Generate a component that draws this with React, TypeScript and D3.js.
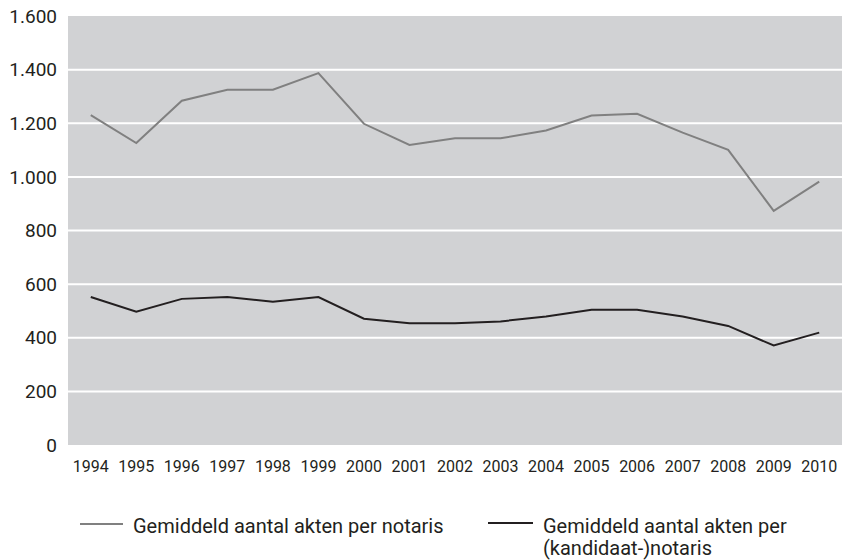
import React, { useEffect, useRef } from "react";
import * as d3 from "d3";

const years = ["1994","1995","1996","1997","1998","1999","2000","2001","2002","2003","2004","2005","2006","2007","2008","2009","2010"];
const notaris = [1230,1126,1284,1325,1325,1387,1198,1119,1144,1144,1173,1229,1235,1165,1101,873,982];
const kandidaat = [552,497,545,552,534,552,471,454,454,461,479,504,504,479,444,371,419];
const yTicks = [0,200,400,600,800,1000,1200,1400,1600];
const legendLabels = ["Gemiddeld aantal akten per notaris", "Gemiddeld aantal akten per|(kandidaat-)notaris"];

const W = 842, H = 560;
const M = { left: 68, right: 0, top: 16, bottom: 115 };
const FONT = "Roboto, 'Liberation Sans', sans-serif";
const TXT = "#231f20";

export default function App() {
  const ref = useRef<SVGSVGElement>(null);
  useEffect(() => {
    const svg = d3.select(ref.current);
    svg.selectAll("*").remove();
    const x = d3.scaleBand().domain(years).range([M.left, W - M.right]);
    const y = d3.scaleLinear().domain([0, 1600]).range([H - M.bottom, M.top]);

    svg.append("rect").attr("x", M.left).attr("y", M.top)
      .attr("width", W - M.right - M.left).attr("height", H - M.bottom - M.top)
      .attr("fill", "#d1d2d4");

    svg.append("g").selectAll("line").data(yTicks.filter(t => t > 0 && t < 1600)).join("line")
      .attr("x1", M.left).attr("x2", W - M.right)
      .attr("y1", d => y(d)).attr("y2", d => y(d))
      .attr("stroke", "#fff").attr("stroke-width", 2);

    const fmt = (v: number) => d3.format(",")(v).replace(/,/g, ".");
    svg.append("g").selectAll("text").data(yTicks).join("text")
      .attr("x", 57).attr("y", d => y(d)).attr("dy", "0.35em")
      .attr("text-anchor", "end").attr("font-family", FONT).attr("font-size", 19)
      .attr("fill", TXT).text(d => fmt(d));

    svg.append("g").selectAll("text").data(years).join("text")
      .attr("x", d => (x(d) as number) + x.bandwidth() / 2).attr("y", 472)
      .attr("text-anchor", "middle").attr("font-family", FONT).attr("font-size", 16)
      .attr("fill", TXT).text(d => d);

    const line = d3.line<number>().x((_, i) => (x(years[i]) as number) + x.bandwidth() / 2).y(d => y(d));
    svg.append("path").attr("d", line(notaris)).attr("fill", "none").attr("stroke", "#808080").attr("stroke-width", 2);
    svg.append("path").attr("d", line(kandidaat)).attr("fill", "none").attr("stroke", "#231f20").attr("stroke-width", 2);

    const legend = [
      { x1: 80, x2: 123, y: 524, tx: 133, color: "#808080", label: legendLabels[0] },
      { x1: 488, x2: 533, y: 523, tx: 543, color: "#231f20", label: legendLabels[1] },
    ];
    legend.forEach(l => {
      svg.append("line").attr("x1", l.x1).attr("x2", l.x2).attr("y1", l.y).attr("y2", l.y)
        .attr("stroke", l.color).attr("stroke-width", 2);
      l.label.split("|").forEach((s, i) => {
        svg.append("text").attr("font-family", FONT).attr("font-size", 20).attr("fill", TXT)
          .attr("x", l.tx).attr("y", 532.5 + i * 22.5).text(s);
      });
    });
  }, []);
  return (
    <div style={{ position: "absolute", left: 0, top: 0 }}>
      <svg ref={ref} width={W} height={H} style={{ display: "block", background: "#fff" }} />
    </div>
  );
}
